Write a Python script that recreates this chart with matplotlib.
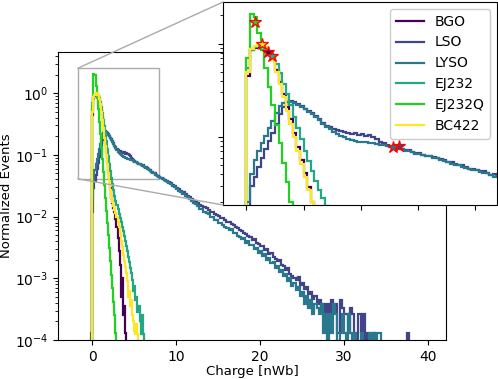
import numpy as np
import matplotlib
matplotlib.use("Agg")
import matplotlib.pyplot as plt
from matplotlib.patches import Rectangle, ConnectionPatch

# ---------------- data ----------------
labels = ["BGO", "LSO", "LYSO", "EJ232", "EJ232Q", "BC422"]
colors = ["#440154", "#414487", "#2a788e", "#22a884", "#22d022", "#fde725"]

# fine bins: width 0.125 from -0.125 to 9.0 ; coarse bins: width 0.25 from 9.0 to 38.5
fine_edges = np.arange(-0.125, 9.0 - 1e-9, 0.125)
coarse_edges = np.arange(9.0, 38.5 + 1e-9, 0.25)

bgo_fine = [0, 0.45, 0.85, 0.90, 0.93, 0.97, 0.90, 0.78, 0.66, 0.52, 0.39, 0.29, 0.21,
            0.155, 0.11, 0.078, 0.056, 0.041, 0.029, 0.020, 0.0166, 0.0138, 0.0117,
            0.0093, 0.0068, 0.0045, 0.0028, 0.00166, 0.0005, 0.001, 0.00025, 0.00035,
            0.00013]

ej232_fine = [0, 0.55, 0.85, 0.92, 0.95, 0.93, 0.90, 0.82, 0.72, 0.60, 0.48, 0.37, 0.29,
              0.22, 0.165, 0.125, 0.095, 0.07, 0.055, 0.0427, 0.0339, 0.0269, 0.0219,
              0.0182, 0.0155, 0.0132, 0.0112, 0.0095, 0.0081, 0.0069, 0.0058, 0.0048,
              0.0040, 0.0033, 0.00275, 0.00224, 0.00182, 0.00148, 0.0012, 0.00095,
              0.00063, 0.00076, 0.00045, 0.0005, 0.00028, 0.00035, 0.0002, 0.000126,
              0.00025, 0.000126]

ej232q_fine = [0, 0.7, 2.05, 1.95, 1.3, 0.85, 0.55, 0.34, 0.22, 0.135, 0.085, 0.052,
               0.033, 0.02, 0.0125, 0.0079, 0.005, 0.0031, 0.0019, 0.00115, 0.0007,
               0.00042, 0.00025, 0.00013]

bc422_fine = [0, 0.5, 0.88, 0.95, 1.0, 1.02, 0.92, 0.80, 0.66, 0.50, 0.37, 0.27, 0.19,
              0.138, 0.10, 0.071, 0.051, 0.0372, 0.0269, 0.0200, 0.0170, 0.0148, 0.0129,
              0.0115, 0.0100, 0.0083, 0.0068, 0.0054, 0.0040, 0.0032, 0.0024, 0.0019,
              0.0015, 0.0012, 0.00089, 0.0005, 0.00063, 0.00035, 0.00045, 0.00025,
              0.0002, 0.00014, 0.000126, 0.00018, 0.000126]

lso_fine = [0.00013, 0.012, 0.0295, 0.0372, 0.0479, 0.0589, 0.0741, 0.0912, 0.110,
            0.138, 0.174, 0.209, 0.234, 0.240, 0.234, 0.224, 0.214, 0.200, 0.191, 0.178,
            0.166, 0.155, 0.141, 0.132, 0.126, 0.120, 0.117, 0.115, 0.112, 0.110, 0.107,
            0.110, 0.105, 0.107, 0.102, 0.105, 0.100, 0.0955, 0.0891, 0.0851, 0.0813,
            0.0794, 0.0776, 0.0776, 0.0741, 0.0724, 0.0724, 0.0692, 0.0676, 0.0676,
            0.0646, 0.0631, 0.0631, 0.0603, 0.0589, 0.0575, 0.0562, 0.0537, 0.0537,
            0.0513, 0.0501, 0.0501, 0.0479, 0.0457, 0.0457, 0.0437, 0.0427, 0.0427,
            0.0407, 0.0389, 0.0398, 0.0380, 0.0372]

lso_coarse = [0.0363, 0.0347, 0.0331, 0.0309, 0.0288, 0.0275, 0.0257, 0.0251, 0.0229,
              0.0219, 0.0209, 0.0191, 0.0182, 0.0174, 0.0166, 0.0155, 0.0148, 0.0141,
              0.0138, 0.0126, 0.0120, 0.0117, 0.0112, 0.0105, 0.0102, 0.00955, 0.00933,
              0.00871, 0.00832, 0.00813, 0.00759, 0.00724, 0.00676, 0.00661, 0.00603,
              0.00589, 0.00537, 0.00525, 0.00479, 0.00468, 0.00417, 0.00427, 0.00380,
              0.00363, 0.00339, 0.00331, 0.00288, 0.00295, 0.00251, 0.00257, 0.00219,
              0.00209, 0.00191, 0.00200, 0.00162, 0.00158, 0.00138, 0.00145, 0.00117,
              0.00110, 0.00102, 0.00095, 0.00105, 0.00079, 0.00083, 0.00066, 0.00072,
              0.00056, 0.00060, 0.00047, 0.00052, 0.00039, 0.00045, 0.00033, 0.00039,
              0.00026, 0.00039, 0.00026, 0.00045, 0.00033, 0.00039, 0.00013, 0.00045,
              0.00033, 0.00026, 0.00026, 0.00013, 0.00033, 0.00026, 0.00013, 0,
              0.00026, 0.00013, 0.00026, 0, 0.00013, 0, 0, 0.00013, 0,
              0, 0, 0, 0, 0, 0, 0, 0, 0, 0, 0, 0, 0, 0, 0.00013, 0, 0, 0]

lyso_fine = [0, 0.02, 0.0398, 0.0562, 0.0708, 0.0851, 0.102, 0.123, 0.148, 0.178, 0.214,
             0.229, 0.234, 0.234, 0.229, 0.219, 0.209, 0.200, 0.186, 0.174, 0.162, 0.151,
             0.138, 0.129, 0.120, 0.112, 0.107, 0.102, 0.100, 0.0955, 0.0933, 0.0912,
             0.0891, 0.0891, 0.0871, 0.0851, 0.0851, 0.0832, 0.0813, 0.0813, 0.0794,
             0.0776, 0.0759, 0.0759, 0.0741, 0.0708, 0.0708, 0.0692, 0.0661, 0.0661,
             0.0646, 0.0617, 0.0617, 0.0589, 0.0589, 0.0562, 0.0550, 0.0537, 0.0513,
             0.0501, 0.0501, 0.0479, 0.0468, 0.0457, 0.0437, 0.0437, 0.0417, 0.0407,
             0.0407, 0.0389, 0.0372, 0.0380, 0.0363]

lyso_coarse = [0.0355, 0.0339, 0.0316, 0.0302, 0.0282, 0.0263, 0.0251, 0.0234, 0.0219,
               0.0204, 0.0195, 0.0178, 0.0166, 0.0158, 0.0148, 0.0135, 0.0132, 0.0120,
               0.0115, 0.0110, 0.0100, 0.0098, 0.0089, 0.0087, 0.0079, 0.0079, 0.0072,
               0.0069, 0.0066, 0.0060, 0.0062, 0.0054, 0.0055, 0.0049, 0.0047, 0.0044,
               0.0045, 0.0038, 0.0040, 0.0034, 0.0035, 0.0030, 0.0031, 0.0026, 0.00275,
               0.0023, 0.00245, 0.0020, 0.0021, 0.00174, 0.00182, 0.00148, 0.00158,
               0.00126, 0.00135, 0.00107, 0.00117, 0.00089, 0.0010, 0.00076, 0.00083,
               0.00065, 0.00071, 0.00052, 0.0006, 0.00039, 0.00052, 0.00033, 0.00045,
               0.00026, 0.00039, 0.00033, 0.00026, 0.00039, 0.00013, 0.00026, 0,
               0.00026, 0.00013, 0.00039, 0.00026, 0, 0.00013, 0.00026, 0.00013, 0,
               0.00026, 0.00013, 0, 0.00013, 0, 0, 0.00013, 0, 0, 0, 0.00013, 0,
               0.00013, 0, 0.00013, 0.00013]

# star markers (inset)
star_x = [0.74, 5.33, 5.12, 0.88, 0.30, 0.56]
star_y = [0.82, 0.080, 0.078, 0.74, 1.71, 0.98]

x_ticks = [0, 10, 20, 30, 40]

# ---------------- build ----------------
edges = np.concatenate([fine_edges, coarse_edges])
nb = len(edges) - 1
nf = len(fine_edges)


def full(fine, coarse=()):
    v = np.zeros(nb)
    v[:len(fine)] = fine
    c = list(coarse)[:nb - nf]
    v[nf:nf + len(c)] = c
    return v


series = [full(bgo_fine), full(lso_fine, lso_coarse), full(lyso_fine, lyso_coarse),
          full(ej232_fine), full(ej232q_fine), full(bc422_fine)]

fig = plt.figure(figsize=(4.98, 3.79), dpi=100)
ax = fig.add_axes([0.1165, 0.1029, 0.7791, 0.7607])
for vals, lab, col in zip(series, labels, colors):
    ax.stairs(vals, edges, color=col, lw=1.6, label=lab)
ax.set_yscale("log")
ax.set_xlim(-4.1, 42.2)
ax.set_ylim(1e-4, 4.7)
ax.set_xticks(x_ticks)
ax.set_xlabel("Charge [nWb]", fontsize=9.5, labelpad=1)
ax.set_ylabel("Normalized Events", fontsize=9.5, labelpad=1)
ax.tick_params(labelsize=10)

# zoom rectangle in main axes
rx0, rx1, ry0, ry1 = -1.75, 7.98, 0.041, 2.53
ax.add_patch(Rectangle((rx0, ry0), rx1 - rx0, ry1 - ry0, fill=False,
                       edgecolor="#aaaaaa", lw=1.0, zorder=0.5))

axins = fig.add_axes([0.4478, 0.4591, 0.5502, 0.5356])
for vals, lab, col in zip(series, labels, colors):
    axins.stairs(vals, edges, color=col, lw=1.6, label=lab)
for sx, sy, col in zip(star_x, star_y, colors):
    axins.plot([sx], [sy], marker="*", ms=9, mfc=col, mec="red", mew=0.9,
               linestyle="none", zorder=5)
axins.set_yscale("log")
axins.set_xlim(-0.82, 8.77)
axins.set_ylim(0.0186, 2.79)
axins.set_xticks([0, 2, 4, 6, 8])
axins.tick_params(labelbottom=False, labelleft=False, which="both")
axins.legend(loc="upper right", fontsize=10, framealpha=1.0)

for (xa, ya), (xb, yb) in [((rx0, ry1), (0, 1)), ((rx0, ry0), (0, 0))]:
    con = ConnectionPatch(xyA=(xa, ya), coordsA=ax.transData,
                          xyB=(xb, yb), coordsB=axins.transAxes,
                          color="#aaaaaa", lw=1.0)
    fig.add_artist(con)

fig.savefig("out.png", dpi=100)
